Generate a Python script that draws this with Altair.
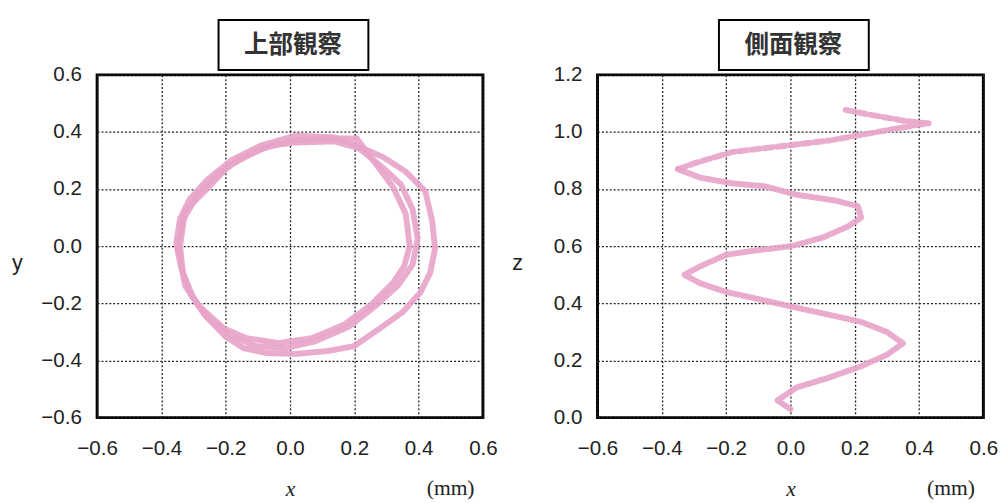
import altair as alt
import pandas as pd

# ---- data (mm) ----
# top view: three laps of the orbit
lapA_x = [-0.348, -0.327, -0.266, -0.187, -0.084, 0.017, 0.117, 0.208, 0.269, 0.321, 0.360, 0.372, 0.355, 0.321, 0.251, 0.169, 0.068, -0.035, -0.135, -0.205, -0.287, -0.327, -0.348]
lapA_y = [0.000, 0.123, 0.192, 0.285, 0.343, 0.370, 0.377, 0.377, 0.285, 0.206, 0.113, 0.000, -0.070, -0.127, -0.206, -0.274, -0.322, -0.339, -0.322, -0.288, -0.206, -0.137, 0.000]
lapB_x = [0.017, 0.138, 0.205, 0.290, 0.360, 0.421, 0.442, 0.451, 0.436, 0.406, 0.351, 0.275, 0.199, 0.117, 0.017, -0.074, -0.144, -0.202, -0.266, -0.312, -0.339, -0.354, -0.342, -0.312, -0.257, -0.181, -0.090, 0.017]
lapB_y = [0.387, 0.381, 0.353, 0.312, 0.261, 0.192, 0.089, -0.007, -0.093, -0.161, -0.230, -0.291, -0.350, -0.367, -0.377, -0.374, -0.357, -0.315, -0.240, -0.161, -0.075, 0.010, 0.096, 0.165, 0.233, 0.302, 0.353, 0.387]
lapC_x = [0.017, 0.138, 0.214, 0.290, 0.345, 0.381, 0.397, 0.381, 0.336, 0.269, 0.184, 0.078, -0.014, -0.105, -0.181, -0.251, -0.302, -0.333, -0.342, -0.330, -0.287, -0.220, -0.135, -0.059, 0.017]
lapC_y = [0.363, 0.367, 0.343, 0.274, 0.216, 0.130, 0.027, -0.065, -0.137, -0.206, -0.281, -0.333, -0.357, -0.350, -0.315, -0.257, -0.178, -0.093, 0.000, 0.096, 0.182, 0.257, 0.319, 0.353, 0.363]

# side view: x against height z (dense lower part, sparse/dashed upper part)
side_x = [0.00, -0.04, 0.02, 0.12, 0.22, 0.30, 0.35, 0.30, 0.22, 0.12, 0.01, -0.10, -0.20, -0.28, -0.33, -0.28, -0.20, -0.11, 0.00, 0.10, 0.18, 0.22, 0.21, 0.14, 0.02, -0.08, -0.18, -0.28, -0.35]
side_z = [0.03, 0.06, 0.106, 0.14, 0.18, 0.22, 0.26, 0.30, 0.335, 0.36, 0.387, 0.415, 0.44, 0.47, 0.50, 0.53, 0.57, 0.585, 0.60, 0.63, 0.67, 0.70, 0.74, 0.76, 0.78, 0.81, 0.82, 0.84, 0.87]
side2_x = [-0.35, -0.30, -0.18, -0.03, 0.12, 0.27, 0.37, 0.43, 0.35, 0.25, 0.16]
side2_z = [0.87, 0.89, 0.93, 0.95, 0.97, 1.00, 1.02, 1.03, 1.04, 1.06, 1.08]

x_ticks = [-0.6, -0.4, -0.2, 0.0, 0.2, 0.4, 0.6]
y_ticks = [-0.6, -0.4, -0.2, 0.0, 0.2, 0.4, 0.6]
z_ticks = [0.0, 0.2, 0.4, 0.6, 0.8, 1.0, 1.2]
titles = ["上部観察", "側面観察"]

rows = []
for lap, xs, ys in (("A", lapA_x, lapA_y), ("B", lapB_x, lapB_y), ("C", lapC_x, lapC_y)):
    for i, (a, b) in enumerate(zip(xs, ys)):
        rows.append({"lap": lap, "seg": "solid", "i": i, "x": a, "v": b})
top_df = pd.DataFrame(rows)

rows = []
for lap, seg, xs, ys in (("S1", "solid", side_x, side_z), ("S2", "dash", side2_x, side2_z)):
    for i, (a, b) in enumerate(zip(xs, ys)):
        rows.append({"lap": lap, "seg": seg, "i": i, "x": a, "v": b})
side_df = pd.DataFrame(rows)

PINK = "#e8a3c9"
W, H = 394, 350
LABEL_FONT = "Liberation Sans"


def panel(df, ydom, yticks, ytitle, title):
    xax = alt.Axis(values=x_ticks, format=".1f", title="x", grid=True, ticks=False, domain=False,
                   labelFlush=False, labelPadding=21, labelFontSize=21, labelFont=LABEL_FONT,
                   labelColor="#222", titleFont="Liberation Serif", titleFontStyle="italic",
                   titleFontWeight="normal", titleFontSize=22, titleX=W / 2, titleY=73,
                   titleBaseline="middle", titleAlign="center", titleColor="#222")
    yax = alt.Axis(values=yticks, format=".1f", title=ytitle, grid=True, ticks=False, domain=False,
                   labelFlush=False, labelPadding=16, labelFontSize=21, labelFont=LABEL_FONT,
                   labelColor="#222", titleFont=LABEL_FONT, titleFontWeight="normal",
                   titleFontSize=22, titleAngle=0, titleX=-82, titleY=H / 2 + 17,
                   titleBaseline="middle", titleAlign="center", titleColor="#222")
    line = alt.Chart(df).mark_line(color=PINK, strokeWidth=6, opacity=0.9,
                                   strokeCap="round", strokeJoin="round").encode(
        x=alt.X("x:Q", scale=alt.Scale(domain=[-0.6, 0.6], nice=False, zero=False), axis=xax),
        y=alt.Y("v:Q", scale=alt.Scale(domain=ydom, nice=False, zero=False), axis=yax),
        strokeDash=alt.StrokeDash("seg:N", scale=alt.Scale(domain=["solid", "dash"],
                                                           range=[[1, 0], [9, 4]]), legend=None),
        detail="lap:N",
        order="i:Q",
    )
    tdf = pd.DataFrame({"t": [title]})
    box = alt.Chart(tdf).mark_rect(fill="white", stroke="black", strokeWidth=2).encode(
        x=alt.value(124), x2=alt.value(277), y=alt.value(-56), y2=alt.value(-5))
    txt = alt.Chart(tdf).mark_text(font="Noto Sans CJK JP", fontSize=25, fontWeight="bold",
                                   color="#333").encode(
        x=alt.value(200), y=alt.value(-30), text="t:N")
    mm = alt.Chart(pd.DataFrame({"t": ["(mm)"]})).mark_text(
        font="Liberation Serif", fontSize=22, color="#222").encode(
        x=alt.value(W - 33), y=alt.value(H + 72), text="t:N")
    return alt.layer(line, box, txt, mm).properties(width=W, height=H)


left = panel(top_df, [-0.6, 0.6], y_ticks, "y", titles[0])
right = panel(side_df, [0.0, 1.2], z_ticks, "z", titles[1])

chart = alt.hconcat(left, right, spacing=11).properties(
    padding={"left": 2, "top": 4, "right": 0, "bottom": 0},
    background="white",
).configure_view(stroke="black", strokeWidth=3).configure_axis(
    gridColor="#222", gridDash=[2, 2], gridWidth=1.3, gridOpacity=1
)

chart.save("out.html", embed_options={"renderer": "svg", "actions": False})
